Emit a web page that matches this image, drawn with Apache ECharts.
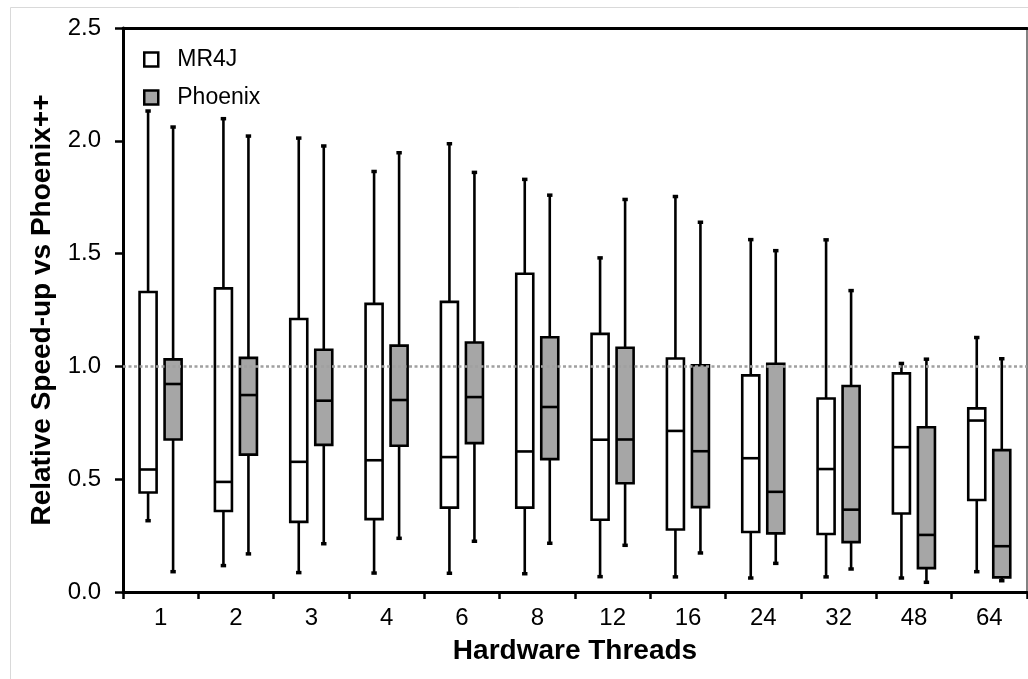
<!DOCTYPE html>
<html>
<head>
<meta charset="utf-8">
<title>Relative Speed-up vs Phoenix++</title>
<script src="https://cdn.jsdelivr.net/npm/echarts@6/dist/echarts.min.js"></script>
<style>
  html, body { margin: 0; padding: 0; background: #fff; }
  #chart { width: 1028px; height: 679px; }
</style>
</head>
<body>
<div id="chart"></div>
<script>
var threads = ['1', '2', '3', '4', '6', '8', '12', '16', '24', '32', '48', '64'];
var yTicks = [0, 0.5, 1.0, 1.5, 2.0, 2.5];
var baseline = 1.0;

// each row: [min, q1, median, q3, max]
var mr4jBoxes = [
    [0.316, 0.441, 0.543, 1.330, 2.132],
    [0.117, 0.359, 0.488, 1.346, 2.098],
    [0.086, 0.311, 0.577, 1.210, 2.012],
    [0.084, 0.323, 0.584, 1.277, 1.864],
    [0.083, 0.374, 0.598, 1.286, 1.987],
    [0.081, 0.374, 0.623, 1.411, 1.829],
    [0.068, 0.320, 0.675, 1.144, 1.481],
    [0.067, 0.277, 0.714, 1.035, 1.753],
    [0.062, 0.266, 0.593, 0.960, 1.562],
    [0.067, 0.257, 0.545, 0.858, 1.561],
    [0.062, 0.348, 0.642, 0.969, 1.013],
    [0.090, 0.408, 0.760, 0.814, 1.128]
];
var phoenixBoxes = [
    [0.090, 0.676, 0.922, 1.031, 2.061],
    [0.169, 0.609, 0.873, 1.038, 2.021],
    [0.214, 0.652, 0.848, 1.074, 1.977],
    [0.238, 0.648, 0.851, 1.092, 1.947],
    [0.225, 0.660, 0.864, 1.106, 1.860],
    [0.216, 0.589, 0.820, 1.129, 1.759],
    [0.207, 0.482, 0.676, 1.083, 1.740],
    [0.173, 0.376, 0.624, 1.005, 1.639],
    [0.127, 0.260, 0.444, 1.012, 1.513],
    [0.102, 0.221, 0.365, 0.913, 1.336],
    [0.043, 0.106, 0.253, 0.730, 1.032],
    [0.050, 0.065, 0.203, 0.629, 1.034]
];

var font = "'Liberation Sans', Arial, sans-serif";

function toRows(boxes) {
    return boxes.map(function (b, i) { return [i].concat(b); });
}

// draws one box-and-whisker, shifted inside the category band
function boxRenderer(shift, fill) {
    return function (params, api) {
        var cat = api.value(0);
        var band = api.size([1, 0])[0];
        var off = band * shift;
        var half = band * 0.113;
        var capHalf = band * 0.036;
        var pMin = api.coord([cat, api.value(1)]);
        var pQ1 = api.coord([cat, api.value(2)]);
        var pMed = api.coord([cat, api.value(3)]);
        var pQ3 = api.coord([cat, api.value(4)]);
        var pMax = api.coord([cat, api.value(5)]);
        var x = pMin[0] + off;
        var line = { stroke: '#000', lineWidth: 2.6 };
        var cap = { stroke: '#000', lineWidth: 3.5 };
        return {
            type: 'group',
            children: [
                { type: 'line', shape: { x1: x, y1: pMin[1], x2: x, y2: pQ1[1] }, style: line },
                { type: 'line', shape: { x1: x, y1: pQ3[1], x2: x, y2: pMax[1] }, style: line },
                { type: 'line', shape: { x1: x - capHalf, y1: pMin[1], x2: x + capHalf, y2: pMin[1] }, style: cap },
                { type: 'line', shape: { x1: x - capHalf, y1: pMax[1], x2: x + capHalf, y2: pMax[1] }, style: cap },
                {
                    type: 'rect',
                    shape: { x: x - half, y: pQ3[1], width: half * 2, height: pQ1[1] - pQ3[1] },
                    style: { fill: fill, stroke: '#000', lineWidth: 2.6 }
                },
                { type: 'line', shape: { x1: x - half, y1: pMed[1], x2: x + half, y2: pMed[1] }, style: line }
            ]
        };
    };
}

var myChart = echarts.init(document.getElementById('chart'), null, { renderer: 'canvas' });

myChart.setOption({
    animation: false,
    backgroundColor: '#fff',
    textStyle: { fontFamily: font },
    graphic: [
        {
            type: 'rect',
            silent: true,
            z: -10,
            shape: { x: 10.5, y: 7.5, width: 1100, height: 700 },
            style: { fill: 'none', stroke: '#d9d9d9', lineWidth: 1 }
        }
    ],
    legend: {
        orient: 'vertical',
        left: 138,
        top: 43,
        itemWidth: 14,
        itemHeight: 14,
        itemGap: 15,
        textStyle: { fontSize: 23, color: '#000', fontFamily: font, padding: [0, 0, 0, 14] },
        data: [
            { name: 'MR4J', icon: 'rect', itemStyle: { color: '#fff', borderColor: '#000', borderWidth: 2.5 } },
            { name: 'Phoenix', icon: 'rect', itemStyle: { color: '#a6a6a6', borderColor: '#000', borderWidth: 2.5 } }
        ]
    },
    grid: { left: 123, right: 1, top: 28, bottom: 87 },
    xAxis: [
        {
            type: 'category',
            data: threads,
            name: 'Hardware Threads',
            nameLocation: 'middle',
            nameGap: 45,
            nameTextStyle: { fontSize: 28, fontWeight: 'bold', color: '#000', fontFamily: font },
            axisLine: { onZero: false, lineStyle: { color: '#000', width: 3 } },
            axisTick: { show: true, interval: 0, length: 7, lineStyle: { color: '#000', width: 2.5 } },
            axisLabel: { interval: 0, margin: 14, fontSize: 24, color: '#000', fontFamily: font },
            splitLine: { show: false }
        },
        {
            type: 'category',
            position: 'top',
            data: threads,
            axisLine: { onZero: false, lineStyle: { color: '#000', width: 3 } },
            axisTick: { show: false },
            axisLabel: { show: false },
            splitLine: { show: false }
        }
    ],
    yAxis: [
        {
            type: 'value',
            min: yTicks[0],
            max: yTicks[yTicks.length - 1],
            interval: 0.5,
            name: 'Relative Speed-up vs Phoenix++',
            nameLocation: 'middle',
            nameGap: 64,
            nameTextStyle: { fontSize: 28, fontWeight: 'bold', color: '#000', fontFamily: font },
            axisLine: { show: true, onZero: false, lineStyle: { color: '#000', width: 3 } },
            axisTick: { show: true, length: 8, lineStyle: { color: '#000', width: 2.5 } },
            axisLabel: {
                margin: 22,
                fontSize: 24,
                color: '#000',
                fontFamily: font,
                formatter: function (v) { return v.toFixed(1); }
            },
            splitLine: { show: false }
        },
        {
            type: 'value',
            position: 'right',
            min: yTicks[0],
            max: yTicks[yTicks.length - 1],
            interval: 0.5,
            axisLine: { show: true, onZero: false, lineStyle: { color: '#595959', width: 1.5 } },
            axisTick: { show: false },
            axisLabel: { show: false },
            splitLine: { show: false }
        }
    ],
    series: [
        {
            name: 'MR4J',
            type: 'custom',
            renderItem: boxRenderer(-0.167, '#fff'),
            itemStyle: { color: '#fff', borderColor: '#000' },
            encode: { x: 0, y: [1, 2, 3, 4, 5] },
            data: toRows(mr4jBoxes),
            z: 3
        },
        {
            name: 'Phoenix',
            type: 'custom',
            renderItem: boxRenderer(0.165, '#a6a6a6'),
            itemStyle: { color: '#a6a6a6', borderColor: '#000' },
            encode: { x: 0, y: [1, 2, 3, 4, 5] },
            data: toRows(phoenixBoxes),
            z: 3,
            markLine: {
                silent: true,
                symbol: 'none',
                label: { show: false },
                z: 5,
                lineStyle: { color: '#a0a0a0', width: 2.5, type: [3, 2.5] },
                data: [{ yAxis: baseline }]
            }
        }
    ]
});
</script>
</body>
</html>
